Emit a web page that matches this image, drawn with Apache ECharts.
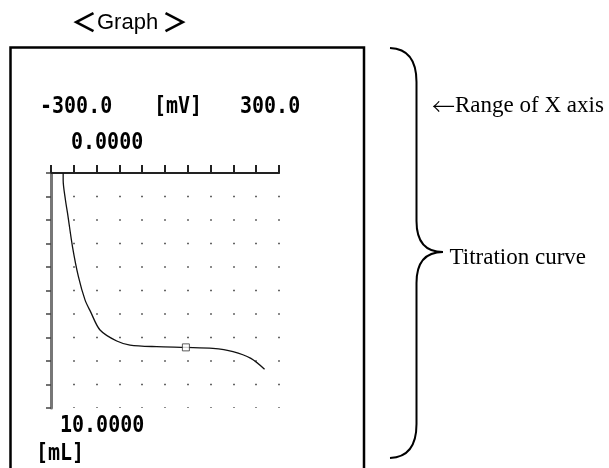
<!DOCTYPE html>
<html>
<head>
<meta charset="utf-8">
<script src="https://cdn.jsdelivr.net/npm/echarts@6/dist/echarts.min.js"></script>
<style>
  html, body { margin: 0; padding: 0; background: #fff; }
  #graph { width: 609px; height: 468px; }
</style>
</head>
<body>
<div id="graph"></div>
<script>
// axis ranges (x: potential, y: titrant volume, downwards)
var mvMin = -300, mvMax = 300;
var mlMin = 0, mlMax = 10;

// titration curve
var curveMv = [-268, -268, -262, -256.6, -243.4, -228, -210.5, -196, -171, -127, -92, -22, 55, 126, 179, 226, 262];
var curveMl = [0, 0.3, 1.15, 1.7, 3.14, 4.4, 5.4, 5.9, 6.68, 7.15, 7.32, 7.39, 7.42, 7.46, 7.6, 7.89, 8.35];

// end point (square marker)
var endpointMv = [55];
var endpointMl = [7.42];

// range labels
var mvLabels = [mvMin.toFixed(1), mvMax.toFixed(1)];
var mlLabels = [mlMin.toFixed(4), mlMax.toFixed(4)];

var chart = echarts.init(document.getElementById('graph'));

var curve = curveMv.map(function (v, i) { return [v, curveMl[i]]; });
var endpoint = endpointMv.map(function (v, i) { return [v, endpointMl[i]]; });

var mono = 'bold 20px "DejaVu Sans Mono"';
var serif = '23px "Liberation Serif", "Times New Roman", serif';

function monoText(x, y, s) {
  return {
    type: 'text', x: x, y: y, scaleY: 1.18,
    style: { text: s, font: mono, fill: '#000', textVerticalAlign: 'middle' }
  };
}

function brace(x1, y1, cx, cy, x2, y2) {
  return {
    type: 'bezierCurve',
    shape: { x1: x1, y1: y1, cpx1: cx, cpy1: cy, x2: x2, y2: y2 },
    style: { stroke: '#000', lineWidth: 2, fill: 'none' }
  };
}

var option = {
  animation: false,
  backgroundColor: '#fff',
  grid: { left: 51, top: 173, width: 228, height: 235 },
  xAxis: {
    type: 'value',
    position: 'top',
    min: mvMin,
    max: mvMax,
    interval: 60,
    axisLine: { show: true, onZero: false, lineStyle: { color: '#222', width: 2 } },
    axisTick: { show: true, inside: false, length: 8, lineStyle: { color: '#222', width: 2 } },
    axisLabel: { show: false },
    splitLine: {
      show: true,
      lineStyle: { color: '#333', width: 1.5, type: [1.5, 22], dashOffset: 0.75 }
    }
  },
  yAxis: {
    type: 'value',
    position: 'left',
    inverse: true,
    min: mlMin,
    max: mlMax,
    interval: 1,
    axisLine: { show: true, onZero: false, lineStyle: { color: '#777', width: 3 } },
    axisTick: { show: true, inside: false, length: 5, lineStyle: { color: '#444', width: 1.5 } },
    axisLabel: { show: false },
    splitLine: { show: false }
  },
  series: [
    {
      type: 'line',
      data: curve,
      showSymbol: false,
      smooth: 0.3,
      lineStyle: { color: '#111', width: 1.3 },
      z: 3
    },
    {
      type: 'scatter',
      data: endpoint,
      symbol: 'rect',
      symbolSize: 7,
      itemStyle: { color: '#fff', borderColor: '#333', borderWidth: 1 },
      z: 4
    }
  ],
  graphic: [
    // panel frame
    {
      type: 'rect',
      shape: { x: 10.5, y: 47.5, width: 353.5, height: 440 },
      style: { fill: 'none', stroke: '#000', lineWidth: 2.5 }
    },
    { type: 'text', x: 84, y: 22.5, style: { text: '＜', font: 'bold 26px "Noto Sans CJK JP"', fill: '#000', textAlign: 'center', textVerticalAlign: 'middle' } },
    { type: 'text', x: 97, y: 22.5, style: { text: 'Graph', font: '22px "Liberation Sans", Arial, sans-serif', fill: '#000', textVerticalAlign: 'middle' } },
    { type: 'text', x: 175, y: 22.5, style: { text: '＞', font: 'bold 26px "Noto Sans CJK JP"', fill: '#000', textAlign: 'center', textVerticalAlign: 'middle' } },

    monoText(40, 107, mvLabels[0]),
    monoText(154, 107, '[mV]'),
    monoText(240, 107, mvLabels[1]),
    monoText(71, 143, mlLabels[0]),
    monoText(60, 426, mlLabels[1]),
    monoText(36, 454, '[mL]'),

    // curly brace
    brace(390, 48, 416.5, 49, 416.5, 82),
    { type: 'line', shape: { x1: 416.5, y1: 82, x2: 416.5, y2: 221 }, style: { stroke: '#000', lineWidth: 2 } },
    brace(416.5, 221, 416.5, 252, 443, 252),
    brace(443, 252, 416.5, 252, 416.5, 283),
    { type: 'line', shape: { x1: 416.5, y1: 283, x2: 416.5, y2: 424 }, style: { stroke: '#000', lineWidth: 2 } },
    brace(416.5, 424, 416.5, 457, 390, 458),

    { type: 'text', x: 443.5, y: 106, style: { text: '←', font: '200 23px "Noto Sans CJK JP"', fill: '#000', textAlign: 'center', textVerticalAlign: 'middle' } },
    { type: 'text', x: 455, y: 106, style: { text: 'Range of X axis', font: serif, fill: '#000', textVerticalAlign: 'middle' } },
    { type: 'text', x: 449.5, y: 257.5, style: { text: 'Titration curve', font: serif, fill: '#000', textVerticalAlign: 'middle' } }
  ]
};

chart.setOption(option);
</script>
</body>
</html>
